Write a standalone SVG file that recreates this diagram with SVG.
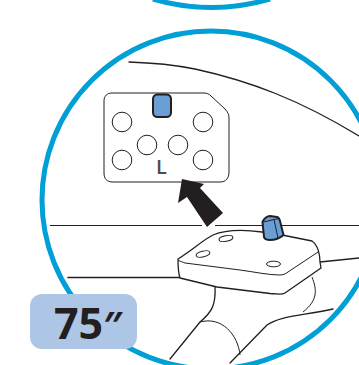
<svg xmlns="http://www.w3.org/2000/svg" width="359" height="365" viewBox="0 0 359 365">
<style>
.ring{fill:none;stroke:#009fd6;stroke-width:5}
.ln{fill:none;stroke:#231f20;stroke-width:1.3;stroke-linecap:round;stroke-linejoin:round}
.th{fill:none;stroke:#231f20;stroke-width:1}
.hole{fill:#fff;stroke:#231f20;stroke-width:1}
.blue{fill:#6a9fd6;stroke:#231f20}
</style>
<rect width="359" height="365" fill="#fff"/>
<g id="rings">
<path class="ring" d="M153 -1Q211 16 270 -1"/>
<circle class="ring" cx="211" cy="200" r="169"/>
</g>
<g id="background-lines">
<path class="ln" d="M129 62C160 63 180 66 195 69C250 81 300 100 359 136"/>
<path class="th" d="M50 225.500H202M215 225.500H359"/>
<path class="ln" d="M68 277.500H180" style="stroke-width:1.600"/>
<path class="ln" d="M320 262L359 258"/>
</g>
<g id="stand">
<path class="ln" d="M215 286C216 305 212 312 200 322L170 359"/>
<path class="th" d="M312 277C317 290 318 300 303 312"/>
<path class="th" d="M200 322C222 316 238 335 240 355"/>
<path class="ln" d="M230 363L267 325C280 316 300 316 333 309"/>
</g>
<g id="plate">
<path class="ln" style="fill:#fff" d="M178 259C195 248 203 240 213 235C225 230 240 229 262 232L282 235L312 241C318 245 320 255 320 262L321 268L285 293C282 295 280 294 270 293.500L217 287L180 278C178 272 178 265 178 259Z"/>
<path class="th" d="M178 260C181 262 183 262 185 263L240 270C255 272 268 275 280 275C283 275 285 274 288 272L318 252"/>
<ellipse class="th" cx="226" cy="238.500" rx="7" ry="2.800" transform="rotate(-10 226 238.500)"/>
<ellipse class="th" cx="203" cy="254" rx="7" ry="2.800" transform="rotate(-14 203 254)"/>
<ellipse class="th" cx="273.500" cy="264" rx="7" ry="2.800"/>
</g>
<g id="knob">
<path class="blue" stroke-width="2" stroke-linejoin="round" d="M262.500 222C264 219 267 216 270 216L277 217C279 217.500 279.500 219 280 221L283.500 235C280 238 274 240 270 240C267 240 264.500 239 264 237Z"/>
<path class="th" d="M263.500 222L274 219.500L278 238M274 219.500L280 218.500"/>
</g>
<g id="panel">
<path fill="#fff" stroke="#231f20" stroke-width="1" d="M112 93H204C207 93 209 94 211 96L225 109C228 112 229 115 229 118V172C229 178 226 182 220 182H113C107 182 104 179 104 173V101C104 96 107 93 112 93Z"/>
<rect class="blue" x="153" y="94.500" width="18" height="22.500" rx="4.500" stroke-width="2"/>
<circle class="hole" cx="122" cy="122" r="9.800"/>
<circle class="hole" cx="203" cy="122" r="9.800"/>
<circle class="hole" cx="147" cy="145" r="9.800"/>
<circle class="hole" cx="178" cy="145" r="9.800"/>
<circle class="hole" cx="122" cy="160" r="9.800"/>
<circle class="hole" cx="203" cy="160" r="9.800"/>
<text x="156" y="174" font-family="'Open Sans','Liberation Sans',sans-serif" font-size="20" font-weight="600" fill="#4d4d4f">L</text>
</g>
<g id="arrow">
<path d="M182 179L204 184L200 188L223 213L207 227L187 197L178 203Z" fill="#231f20"/>
</g>
<g id="label">
<rect x="30" y="294" width="107" height="55" rx="12" fill="#aec6e6"/>
<text x="54" y="339" font-family="'Open Sans','Liberation Sans',sans-serif" font-size="43" font-weight="700" fill="#231f20">75<tspan font-size="37">″</tspan></text>
</g>
</svg>
